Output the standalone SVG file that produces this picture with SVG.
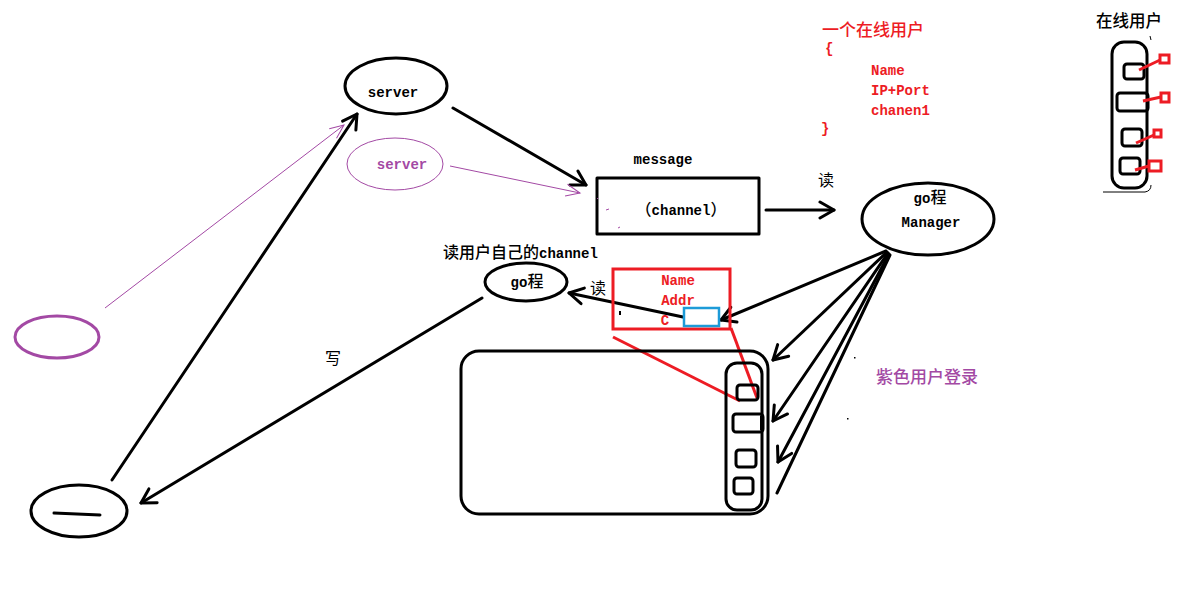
<svg xmlns="http://www.w3.org/2000/svg" width="1198" height="609" viewBox="0 0 1198 609">
  <style>
    .t { font-family: "Liberation Mono", "Noto Sans CJK SC", monospace; font-size: 14px; font-weight: bold; fill: #000; }
    .c { font-family: "Noto Sans CJK SC", sans-serif; font-size: 16px; font-weight: 500; }
    .cjk { font-family: "Noto Sans CJK SC", sans-serif; font-size: 16px; fill: #000; }
    .red { fill: #ed1c24; }
    .pur { fill: #a349a4; }
    .blk { fill: none; stroke: #000; stroke-width: 3; stroke-linecap: round; stroke-linejoin: round; }
    .rd { fill: none; stroke: #ed1c24; stroke-width: 3; }
    .pl { fill: none; stroke: #a349a4; stroke-width: 1; }
  </style>
  <defs>
    <marker id="arr" viewBox="0 0 20 20" refX="18" refY="10" markerWidth="20" markerHeight="20" markerUnits="userSpaceOnUse" orient="auto">
      <path d="M4 2 L18 10 L4 18" fill="none" stroke="#000" stroke-width="3" stroke-linecap="round" stroke-linejoin="round"/>
    </marker>
    <marker id="arrP" viewBox="0 0 20 20" refX="18" refY="10" markerWidth="20" markerHeight="20" markerUnits="userSpaceOnUse" orient="auto">
      <path d="M4 4 L18 10 L4 16" fill="none" stroke="#a349a4" stroke-width="1"/>
    </marker>
  </defs>
  <rect width="1198" height="609" fill="#fff"/>

  <!-- connectors -->
  <g id="connectors">
    <line class="blk" x1="453" y1="108" x2="586" y2="185" marker-end="url(#arr)"/>
    <line class="blk" x1="766" y1="210" x2="834" y2="210" marker-end="url(#arr)"/>
    <line class="blk" x1="112" y1="480" x2="357" y2="114" marker-end="url(#arr)"/>
    <line class="blk" x1="482" y1="298" x2="141" y2="503" marker-end="url(#arr)"/>
    <line class="blk" x1="683" y1="317" x2="569" y2="293" marker-end="url(#arr)"/>
    <line class="blk" x1="886" y1="251" x2="721" y2="320" marker-end="url(#arr)"/>
    <line class="blk" x1="887" y1="252" x2="773" y2="360" marker-end="url(#arr)"/>
    <line class="blk" x1="888" y1="253" x2="773" y2="421" marker-end="url(#arr)"/>
    <line class="blk" x1="889" y1="254" x2="778" y2="462" marker-end="url(#arr)"/>
    <line class="blk" x1="890" y1="255" x2="777" y2="493"/>
    <line class="pl" x1="105" y1="308" x2="344" y2="125" marker-end="url(#arrP)"/>
    <line class="pl" x1="450" y1="166" x2="580" y2="193" marker-end="url(#arrP)"/>
    <line class="rd" x1="613" y1="337" x2="740" y2="401"/>
    <line class="rd" x1="731" y1="328" x2="757" y2="398"/>
  </g>

  <!-- server -->
  <g id="server">
    <ellipse class="blk" cx="396" cy="86" rx="51" ry="28"/>
    <text class="t" x="393" y="97" text-anchor="middle">server</text>
  </g>

  <!-- purple server -->
  <g id="server-purple">
    <ellipse class="pl" cx="395" cy="164" rx="48" ry="26"/>
    <text class="t pur" x="402" y="169" text-anchor="middle">server</text>
  </g>

  <!-- purple client -->
  <g id="client-purple">
    <ellipse cx="57" cy="337" rx="42" ry="21" fill="none" stroke="#a349a4" stroke-width="3"/>
  </g>

  <!-- client -->
  <g id="client">
    <ellipse class="blk" cx="79" cy="511" rx="48" ry="26"/>
    <line class="blk" x1="54" y1="513" x2="100" y2="515"/>
  </g>

  <!-- message channel -->
  <g id="message">
    <rect class="blk" x="597" y="178" width="162" height="56"/>
    <text class="t" x="663" y="164" text-anchor="middle">message</text>
    <text class="t" x="681" y="215" text-anchor="middle"><tspan class="c">（</tspan>channel<tspan class="c">）</tspan></text>
    <path d="M597 199 l1 -1 M606 210 l3 -1 M618 228 l2 -1" stroke="#a349a4" stroke-width="1"/>
  </g>
  <text class="cjk" x="818" y="186">读</text>

  <!-- manager goroutine -->
  <g id="manager">
    <ellipse class="blk" cx="928" cy="219" rx="66" ry="36"/>
    <text class="t" x="930" y="203" text-anchor="middle">go<tspan class="c">程</tspan></text>
    <text class="t" x="931" y="227" text-anchor="middle">Manager</text>
  </g>

  <!-- user goroutine -->
  <g id="user-go">
    <ellipse class="blk" cx="526" cy="282" rx="41" ry="19"/>
    <text class="t" x="527" y="287" text-anchor="middle">go<tspan class="c">程</tspan></text>
    <text class="t" x="443" y="258"><tspan class="c" font-size="17">读用户自己的</tspan>channel</text>
  </g>
  <text class="cjk" x="590" y="294">读</text>
  <text class="cjk" x="325" y="364">写</text>

  <!-- user record -->
  <g id="user-record">
    <rect class="rd" x="613" y="269" width="117" height="60"/>
    <text class="t red" x="678" y="285" text-anchor="middle">Name</text>
    <text class="t red" x="678" y="305" text-anchor="middle">Addr</text>
    <text class="t red" x="665" y="325" text-anchor="middle" font-weight="normal">C</text>
    <rect x="684" y="308" width="35" height="18" fill="none" stroke="#1d9bd8" stroke-width="2.5"/>
    <rect x="619" y="311" width="2" height="4" fill="#000"/>
  </g>

  <!-- online user map -->
  <g id="map">
    <rect class="blk" x="461" y="351" width="307" height="163" rx="18"/>
    <rect class="blk" x="726" y="363" width="36" height="147" rx="11"/>
    <rect class="blk" x="737" y="385" width="21" height="15" rx="3"/>
    <rect class="blk" x="733" y="414" width="30" height="18" rx="3"/>
    <rect x="760" y="416" width="4" height="14" fill="#000"/>
    <rect class="blk" x="736" y="450" width="20" height="17" rx="3"/>
    <rect class="blk" x="734" y="478" width="19" height="16" rx="3"/>
  </g>

  <!-- online user description -->
  <g id="online-user" font-family="Liberation Mono, Noto Sans CJK SC, monospace" font-weight="bold" font-size="14" fill="#ed1c24">
    <text x="822" y="36" font-family="Noto Sans CJK SC, sans-serif" font-weight="500" font-size="17">一个在线用户</text>
    <text x="825" y="53">{</text>
    <text x="871" y="75">Name</text>
    <text x="871" y="95">IP+Port</text>
    <text x="871" y="115">chanen1</text>
    <text x="821" y="133">}</text>
  </g>

  <!-- online user list -->
  <g id="online-list">
    <text x="1129" y="27" text-anchor="middle" font-family="Noto Sans CJK SC, sans-serif" font-weight="500" font-size="16.5" fill="#000">在线用户</text>
    <path d="M1150 36 l1 4" stroke="#000" stroke-width="1"/>
    <rect class="blk" x="1112" y="42" width="35" height="146" rx="12"/>
    <path d="M1103 192 L1145 192 Q1151 191 1151 185" fill="none" stroke="#000" stroke-width="1"/>
    <rect class="blk" x="1124" y="64" width="20" height="15" rx="3"/>
    <rect class="blk" x="1117" y="93" width="31" height="18" rx="3"/>
    <rect class="blk" x="1122" y="129" width="20" height="17" rx="3"/>
    <rect class="blk" x="1120" y="158" width="20" height="16" rx="3"/>
    <line class="rd" x1="1139" y1="70" x2="1160" y2="60"/>
    <line class="rd" x1="1143" y1="101" x2="1161" y2="97"/>
    <line class="rd" x1="1136" y1="143" x2="1154" y2="135"/>
    <line class="rd" x1="1135" y1="170" x2="1149" y2="166"/>
    <rect class="rd" x="1160" y="55" width="9" height="8"/>
    <rect class="rd" x="1161" y="93" width="8" height="9"/>
    <rect class="rd" x="1154" y="130" width="7" height="7"/>
    <rect class="rd" x="1149" y="161" width="12" height="10"/>
  </g>

  <text x="876" y="383" font-family="Noto Sans CJK SC, sans-serif" font-weight="500" font-size="17" fill="#a349a4">紫色用户登录</text>
  <rect x="854" y="357" width="1.5" height="1.5" fill="#000"/>
  <rect x="847" y="418" width="1.5" height="1.5" fill="#000"/>
</svg>
